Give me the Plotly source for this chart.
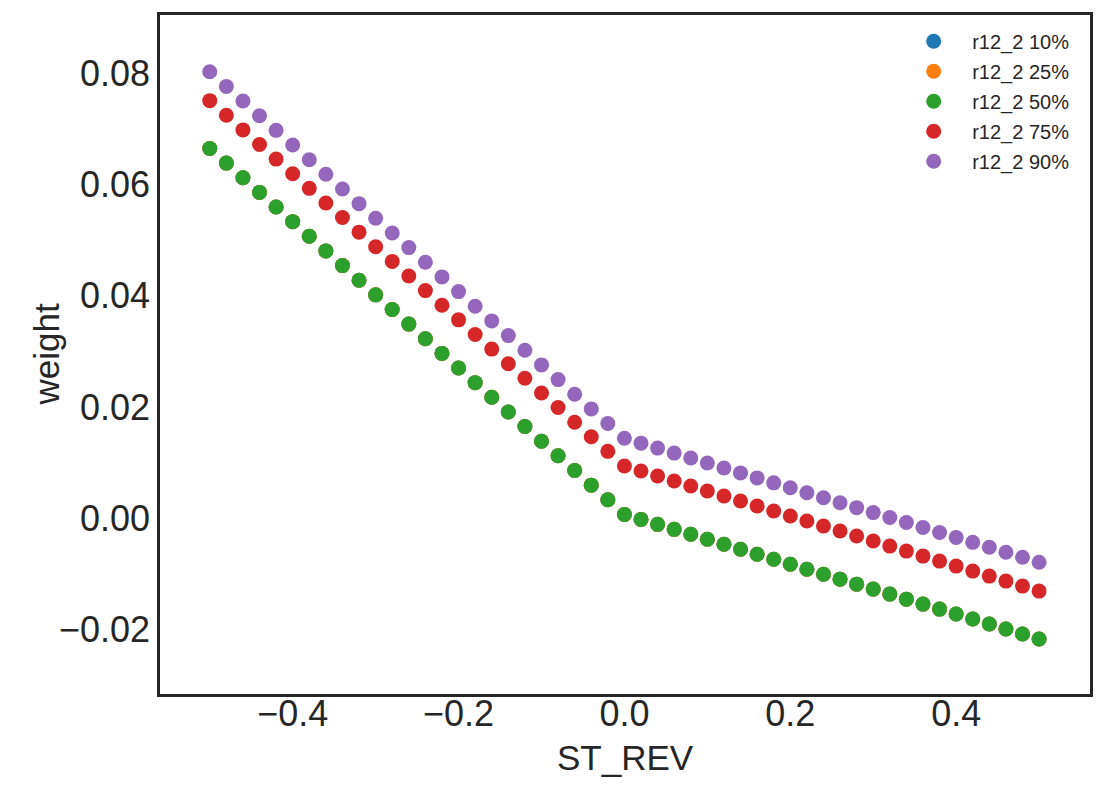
import plotly.graph_objects as go

st_rev = [-0.50, -0.48, -0.46, -0.44, -0.42, -0.40, -0.38, -0.36, -0.34, -0.32,
          -0.30, -0.28, -0.26, -0.24, -0.22, -0.20, -0.18, -0.16, -0.14, -0.12,
          -0.10, -0.08, -0.06, -0.04, -0.02, 0.00, 0.02, 0.04, 0.06, 0.08,
          0.10, 0.12, 0.14, 0.16, 0.18, 0.20, 0.22, 0.24, 0.26, 0.28,
          0.30, 0.32, 0.34, 0.36, 0.38, 0.40, 0.42, 0.44, 0.46, 0.48, 0.50]

w50 = [0.0665, 0.06387, 0.06124, 0.05860, 0.05597, 0.05334, 0.05071, 0.04808, 0.04544, 0.04281,
       0.04018, 0.03755, 0.03492, 0.03228, 0.02965, 0.02702, 0.02439, 0.02176, 0.01912, 0.01649,
       0.01386, 0.01123, 0.00860, 0.00596, 0.00333, 0.0007, -0.00020, -0.00109, -0.00199, -0.00288,
       -0.00378, -0.00468, -0.00558, -0.00647, -0.00737, -0.00826, -0.00916, -0.01006, -0.01095, -0.01185,
       -0.01274, -0.01364, -0.01454, -0.01543, -0.01633, -0.01722, -0.01812, -0.01902, -0.01991, -0.02081,
       -0.0217]

w10 = [0.0665, 0.06387, 0.06124, 0.05860, 0.05597, 0.05334, 0.05071, 0.04808, 0.04544, 0.04281,
       0.04018, 0.03755, 0.03492, 0.03228, 0.02965, 0.02702, 0.02439, 0.02176, 0.01912, 0.01649,
       0.01386, 0.01123, 0.00860, 0.00596, 0.00333, 0.0007, -0.00020, -0.00109, -0.00199, -0.00288,
       -0.00378, -0.00468, -0.00558, -0.00647, -0.00737, -0.00826, -0.00916, -0.01006, -0.01095, -0.01185,
       -0.01274, -0.01364, -0.01454, -0.01543, -0.01633, -0.01722, -0.01812, -0.01902, -0.01991, -0.02081,
       -0.0217]

w25 = [0.0665, 0.06387, 0.06124, 0.05860, 0.05597, 0.05334, 0.05071, 0.04808, 0.04544, 0.04281,
       0.04018, 0.03755, 0.03492, 0.03228, 0.02965, 0.02702, 0.02439, 0.02176, 0.01912, 0.01649,
       0.01386, 0.01123, 0.00860, 0.00596, 0.00333, 0.0007, -0.00020, -0.00109, -0.00199, -0.00288,
       -0.00378, -0.00468, -0.00558, -0.00647, -0.00737, -0.00826, -0.00916, -0.01006, -0.01095, -0.01185,
       -0.01274, -0.01364, -0.01454, -0.01543, -0.01633, -0.01722, -0.01812, -0.01902, -0.01991, -0.02081,
       -0.0217]

w75 = [0.0751, 0.07247, 0.06984, 0.06722, 0.06459, 0.06196, 0.05933, 0.05670, 0.05408, 0.05145,
       0.04882, 0.04619, 0.04356, 0.04094, 0.03831, 0.03568, 0.03305, 0.03042, 0.02780, 0.02517,
       0.02254, 0.01991, 0.01728, 0.01466, 0.01203, 0.0094, 0.0085, 0.0076, 0.0067, 0.0058,
       0.0049, 0.0040, 0.0031, 0.0022, 0.0013, 0.0004, -0.0005, -0.0014, -0.0023, -0.0032,
       -0.0041, -0.0050, -0.0059, -0.0068, -0.0077, -0.0086, -0.0095, -0.0104, -0.0113, -0.0122,
       -0.0131]

w90 = [0.0803, 0.07766, 0.07503, 0.07239, 0.06976, 0.06712, 0.06448, 0.06185, 0.05921, 0.05658,
       0.05394, 0.05130, 0.04867, 0.04603, 0.04340, 0.04076, 0.03812, 0.03549, 0.03285, 0.03022,
       0.02758, 0.02494, 0.02231, 0.01967, 0.01704, 0.0144, 0.01351, 0.01262, 0.01172, 0.01083,
       0.00994, 0.00905, 0.00816, 0.00726, 0.00637, 0.00548, 0.00459, 0.00370, 0.00280, 0.00191,
       0.00102, 0.00013, -0.00076, -0.00166, -0.00255, -0.00344, -0.00433, -0.00522, -0.00612, -0.00701,
       -0.0079]

series_names = ["r12_2 10%", "r12_2 25%", "r12_2 50%", "r12_2 75%", "r12_2 90%"]
series_values = [w10, w25, w50, w75, w90]
colors = ["#1f77b4", "#ff7f0e", "#2ca02c", "#d62728", "#9467bd"]

x_ticks = [-0.4, -0.2, 0.0, 0.2, 0.4]
x_ticklabels = ["−0.4", "−0.2", "0.0", "0.2", "0.4"]
y_ticks = [-0.02, 0.0, 0.02, 0.04, 0.06, 0.08]
y_ticklabels = ["−0.02", "0.00", "0.02", "0.04", "0.06", "0.08"]

FONT = "Liberation Sans, Arial, sans-serif"
TXT = "#262626"

fig = go.Figure()
for i, (name, vals, col) in enumerate(zip(series_names, series_values, colors)):
    fig.add_trace(go.Scatter(
        x=st_rev, y=vals, mode="markers", name=name,
        legendgroup=f"g{i}",
        marker=dict(color=col, size=15, line=dict(width=0)),
    ))

axis_common = dict(
    showgrid=False, zeroline=False, showline=True, mirror=True,
    linecolor=TXT, linewidth=2.5, ticks="",
    tickfont=dict(family=FONT, size=36, color=TXT),
)

fig.update_layout(
    width=1106, height=795,
    margin=dict(l=160, r=16, t=15, b=101),
    paper_bgcolor="white", plot_bgcolor="white",
    font=dict(family=FONT, color=TXT),
    xaxis=dict(
        range=[-0.56, 0.5614],
        tickvals=x_ticks, ticktext=x_ticklabels,
        ticklabelstandoff=-14,
        **axis_common,
    ),
    yaxis=dict(
        range=[-0.0316, 0.0905],
        tickvals=y_ticks, ticktext=y_ticklabels,
        ticklabelstandoff=0,
        **axis_common,
    ),
    legend=dict(
        x=0.983, y=0.99, xanchor="right", yanchor="top",
        bgcolor="rgba(0,0,0,0)",
        font=dict(family=FONT, size=20, color=TXT),
        tracegroupgap=1,
        itemwidth=67,
    ),
    annotations=[
        dict(text="ST_REV", xref="paper", yref="paper", x=0.5, y=0,
             xanchor="center", yanchor="middle", yshift=-63, showarrow=False,
             font=dict(family=FONT, size=35, color=TXT)),
        dict(text="weight", xref="paper", yref="paper", x=0, y=0.5,
             xanchor="center", yanchor="middle", xshift=-114, showarrow=False,
             textangle=-90, font=dict(family=FONT, size=35, color=TXT)),
    ],
)

fig.write_html("out.html")
